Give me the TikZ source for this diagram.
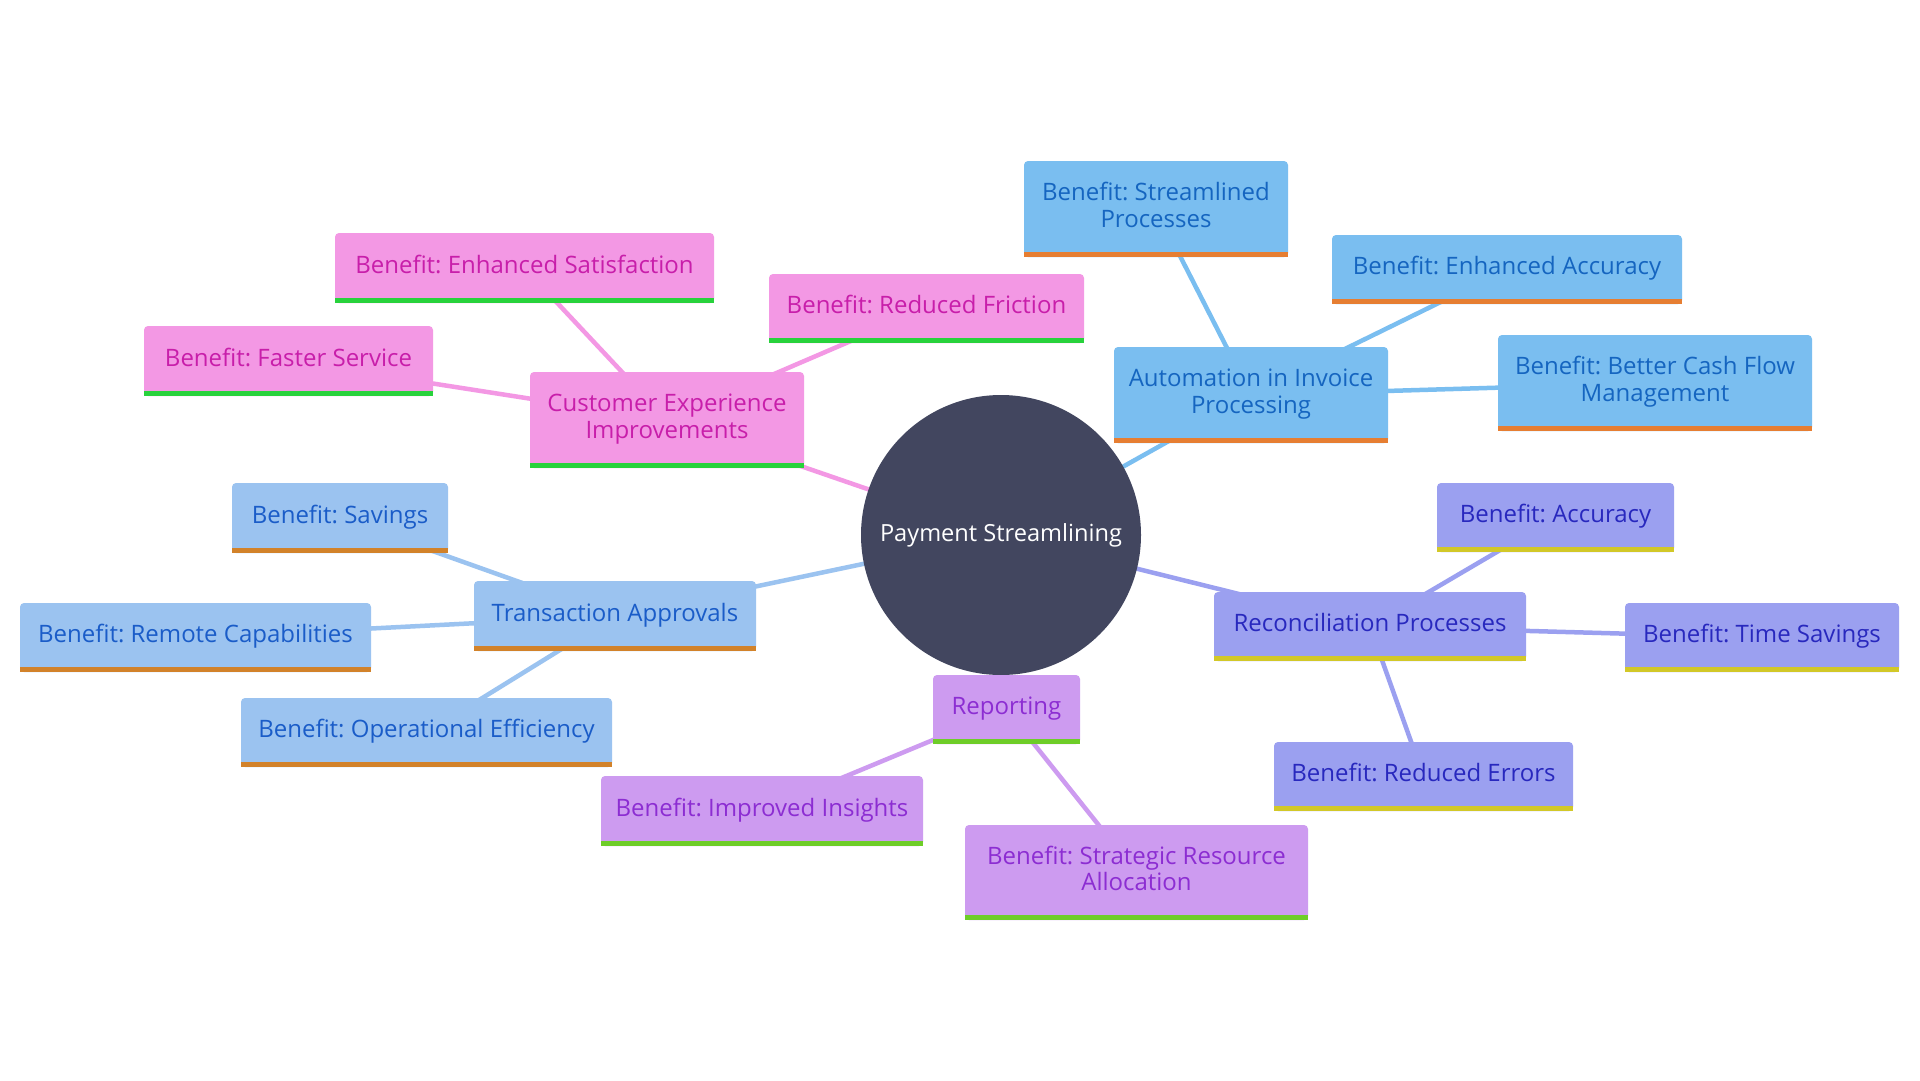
\documentclass[tikz,border=0pt]{standalone}
\usepackage{fontspec}
\setmainfont{Open Sans}
\frenchspacing
\definecolor{hubfill}{HTML}{42465F}
\definecolor{aFill}{HTML}{7ABEF0}\definecolor{aText}{HTML}{1565C0}\definecolor{aBar}{HTML}{E67E32}
\definecolor{tFill}{HTML}{9BC3F0}\definecolor{tText}{HTML}{1A5CC8}\definecolor{tBar}{HTML}{D2822A}
\definecolor{cFill}{HTML}{F398E4}\definecolor{cText}{HTML}{C81EAA}\definecolor{cBar}{HTML}{28D23C}
\definecolor{rFill}{HTML}{9BA0F0}\definecolor{rText}{HTML}{2828BE}\definecolor{rBar}{HTML}{D2C828}
\definecolor{pFill}{HTML}{CD9BF0}\definecolor{pText}{HTML}{8C2DD2}\definecolor{pBar}{HTML}{6ECD28}
\pgfdeclarelayer{bg}
\pgfsetlayers{bg,main}
\tikzset{
  box/.style={rectangle, rounded corners=4pt, inner sep=0pt, align=center,
    font=\fontsize{24}{26.5}\selectfont,
    execute at begin node=\strut, execute at end node=\strut},
  abox/.style={box, fill=aFill, text=aText},
  tbox/.style={box, fill=tFill, text=tText},
  cbox/.style={box, fill=cFill, text=cText},
  rbox/.style={box, fill=rFill, text=rText},
  pbox/.style={box, fill=pFill, text=pText},
  link/.style={line width=4.5pt},
}
\begin{document}
\begin{tikzpicture}[x=1pt,y=-1pt]
\useasboundingbox (0,0) rectangle (1920,1080);

% hub
\node[circle, fill=hubfill, text=white, minimum size=280pt, inner sep=0pt,
  font=\fontsize{23.6}{27}\selectfont] (hub) at (1001,535) {Payment Streamlining};

% Automation group
\node[abox, minimum width=274pt, minimum height=96pt] (auto) at (1251,395) {Automation in Invoice\\Processing};
\node[abox, minimum width=264pt, minimum height=96pt] (stream) at (1156,209) {Benefit: Streamlined\\Processes};
\node[abox, minimum width=350pt, minimum height=69pt] (encacc) at (1507,269.5) {Benefit: Enhanced Accuracy};
\node[abox, minimum width=314pt, minimum height=96pt] (cash) at (1655,383) {Benefit: Better Cash Flow\\Management};

% Customer group
\node[cbox, minimum width=274pt, minimum height=96pt] (cust) at (667,420) {Customer Experience\\Improvements};
\node[cbox, minimum width=379pt, minimum height=70pt] (ensat) at (524.5,268) {Benefit: Enhanced Satisfaction};
\node[cbox, minimum width=289pt, minimum height=70pt] (faster) at (288.5,361) {Benefit: Faster Service};
\node[cbox, minimum width=315pt, minimum height=69pt] (friction) at (926.5,308.5) {Benefit: Reduced Friction};

% Transaction group
\node[tbox, minimum width=282pt, minimum height=70pt] (trans) at (615,616) {Transaction Approvals};
\node[tbox, minimum width=216pt, minimum height=70pt] (savings) at (340,518) {Benefit: Savings};
\node[tbox, minimum width=351pt, minimum height=69pt] (remote) at (195.5,637.5) {Benefit: Remote Capabilities};
\node[tbox, minimum width=371pt, minimum height=69pt] (opeff) at (426.5,732.5) {Benefit: Operational Efficiency};

% Reporting group
\node[pbox, minimum width=147pt, minimum height=69pt] (report) at (1006.5,709.5) {Reporting};
\node[pbox, minimum width=322pt, minimum height=70pt] (insight) at (762,811) {Benefit: Improved Insights};
\node[pbox, minimum width=343pt, minimum height=95pt] (strat) at (1136.5,872.5) {Benefit: Strategic Resource\\Allocation};

% Reconciliation group
\node[rbox, minimum width=312pt, minimum height=69pt] (recon) at (1370,626.5) {Reconciliation Processes};
\node[rbox, minimum width=237pt, minimum height=69pt] (acc) at (1555.5,517.5) {Benefit: Accuracy};
\node[rbox, minimum width=274pt, minimum height=69pt] (timesav) at (1762,637.5) {Benefit: Time Savings};
\node[rbox, minimum width=299pt, minimum height=69pt] (rederr) at (1423.5,776.5) {Benefit: Reduced Errors};

% bars
\foreach \n in {auto,stream,encacc,cash}
  \fill[aBar] (\n.south west) rectangle ([yshift=5pt]\n.south east);
\foreach \n in {cust,ensat,faster,friction}
  \fill[cBar] (\n.south west) rectangle ([yshift=5pt]\n.south east);
\foreach \n in {trans,savings,remote,opeff}
  \fill[tBar] (\n.south west) rectangle ([yshift=5pt]\n.south east);
\foreach \n in {report,insight,strat}
  \fill[pBar] (\n.south west) rectangle ([yshift=5pt]\n.south east);
\foreach \n in {recon,acc,timesav,rederr}
  \fill[rBar] (\n.south west) rectangle ([yshift=5pt]\n.south east);

% connectors
\begin{pgfonlayer}{bg}
\fill[white] (0,0) rectangle (1920,1080);
\draw[link, aFill] (hub.center) -- (auto.center);
\draw[link, aFill] (auto.center) -- (stream.center);
\draw[link, aFill] (auto.center) -- (encacc.center);
\draw[link, aFill] (auto.center) -- (cash.center);
\draw[link, cFill] (hub.center) -- (cust.center);
\draw[link, cFill] (cust.center) -- (ensat.center);
\draw[link, cFill] (cust.center) -- (faster.center);
\draw[link, cFill] (cust.center) -- (friction.center);
\draw[link, tFill] (hub.center) -- (trans.center);
\draw[link, tFill] (trans.center) -- (savings.center);
\draw[link, tFill] (trans.center) -- (remote.center);
\draw[link, tFill] (trans.center) -- (opeff.center);
\draw[link, pFill] (hub.center) -- (report.center);
\draw[link, pFill] (report.center) -- (insight.center);
\draw[link, pFill] (report.center) -- (strat.center);
\draw[link, rFill] (hub.center) -- (recon.center);
\draw[link, rFill] (recon.center) -- (acc.center);
\draw[link, rFill] (recon.center) -- (timesav.center);
\draw[link, rFill] (recon.center) -- (rederr.center);
\end{pgfonlayer}
\end{tikzpicture}
\end{document}
